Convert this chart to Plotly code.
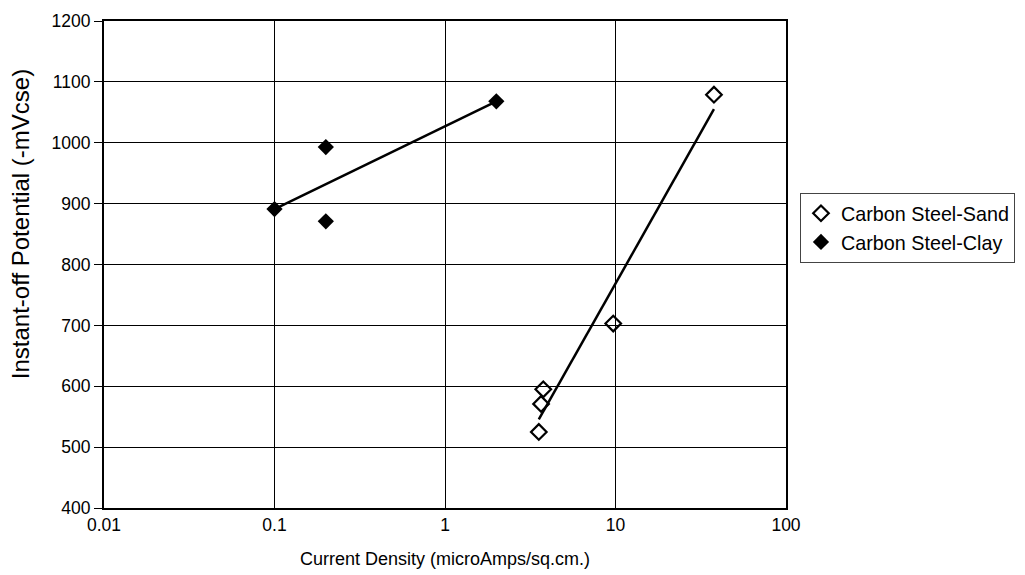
import numpy as np
import plotly.graph_objects as go

# Data
sand_x = [3.55, 3.66, 3.77, 9.7, 37.8]
sand_y = [525, 571, 595, 703, 1079]
clay_x = [0.1, 0.2, 0.2, 2.0]
clay_y = [891, 993, 871, 1068]

x_ticks = [0.01, 0.1, 1, 10, 100]
x_tick_labels = ["0.01", "0.1", "1", "10", "100"]
y_ticks = [400, 500, 600, 700, 800, 900, 1000, 1100, 1200]

FONT = "Liberation Sans, Arial, sans-serif"


def log_fit(xs, ys):
    lx = np.log10(xs)
    b, a = np.polyfit(lx, ys, 1)
    xr = np.array([min(xs), max(xs)])
    return xr, a + b * np.log10(xr)


fig = go.Figure()

sx, sy = log_fit(sand_x, sand_y)
cx, cy = log_fit(clay_x, clay_y)

fig.add_trace(go.Scatter(x=sx, y=sy, mode="lines", line=dict(color="black", width=2.5),
                         showlegend=False, hoverinfo="skip"))
fig.add_trace(go.Scatter(x=cx, y=cy, mode="lines", line=dict(color="black", width=2.5),
                         showlegend=False, hoverinfo="skip"))

fig.add_trace(go.Scatter(x=sand_x, y=sand_y, mode="markers", name="Carbon Steel-Sand",
                         marker=dict(symbol="diamond-open", size=12, color="black",
                                     line=dict(color="black", width=2.2))))
fig.add_trace(go.Scatter(x=clay_x, y=clay_y, mode="markers", name="Carbon Steel-Clay",
                         marker=dict(symbol="diamond", size=12.5, color="black")))

fig.update_layout(
    width=1025, height=575,
    margin=dict(l=104, r=239, t=21, b=67, autoexpand=False),
    paper_bgcolor="white", plot_bgcolor="white",
    font=dict(family=FONT, size=17.5, color="black"),
    legend=dict(x=1.0205, y=0.647, xanchor="left", yanchor="top",
                bordercolor="#444", borderwidth=1,
                font=dict(family=FONT, size=19.75, color="black"),
                itemwidth=30, tracegroupgap=0),
    showlegend=True,
    annotations=[dict(
        text="Instant-off Potential (-mVcse)", textangle=-90,
        xref="paper", yref="paper", x=-0.123, y=0.583,
        xanchor="center", yanchor="middle", showarrow=False,
        font=dict(family=FONT, size=24, color="black"),
    )],
)

fig.update_xaxes(
    type="log", range=[-2, 2],
    tickvals=x_ticks, ticktext=x_tick_labels,
    showgrid=True, gridcolor="black", gridwidth=1,
    showline=True, linecolor="black", linewidth=2, mirror=True,
    ticks="", zeroline=False, automargin=False,
    tickfont=dict(family=FONT, size=17.5),
    title=dict(text="Current Density (microAmps/sq.cm.)", font=dict(family=FONT, size=18), standoff=18),
)
fig.update_yaxes(
    range=[400, 1200], tickvals=y_ticks,
    showgrid=True, gridcolor="black", gridwidth=1,
    showline=True, linecolor="black", linewidth=2, mirror=True,
    ticks="outside", ticklen=8, tickcolor="black", zeroline=False, automargin=False,
    tickfont=dict(family=FONT, size=17.5),
)

fig.write_html("out.html", config={"displayModeBar": False},
               post_script="document.body.style.margin='0';")
